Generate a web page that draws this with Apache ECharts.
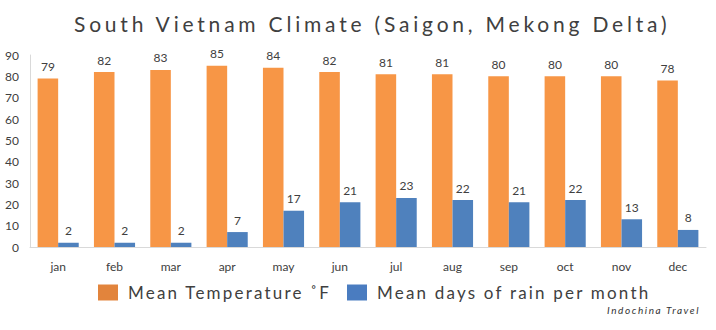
<!DOCTYPE html>
<html>
<head>
<meta charset="utf-8">
<script src="https://cdn.jsdelivr.net/npm/echarts@6/dist/echarts.min.js"></script>
<style>
  html, body { margin: 0; padding: 0; background: #fff; }
  #chart { width: 716px; height: 330px; }
</style>
</head>
<body>
<div id="chart"></div>
<script>
// Monthly climate figures for Saigon / Mekong Delta
const months = ['jan', 'feb', 'mar', 'apr', 'may', 'jun', 'jul', 'aug', 'sep', 'oct', 'nov', 'dec'];
const meanTempF = [79, 82, 83, 85, 84, 82, 81, 81, 80, 80, 80, 78];
const rainDays = [2, 2, 2, 7, 17, 21, 23, 22, 21, 22, 13, 8];
const yTicks = [0, 10, 20, 30, 40, 50, 60, 70, 80, 90];

const titleText = 'South Vietnam Climate (Saigon, Mekong Delta)';
const tempName = 'Mean Temperature \u02DAF';
const rainName = 'Mean days of rain per month';
const creditText = 'Indochina Travel';

const FONT = 'Lato, "Open Sans", sans-serif';
const ORANGE = '#F79646';
const BLUE = '#4F81BD';

// letter spacing applied to the spaced-out headings (svg renderer)
const spacing = {};
spacing[titleText] = '3.8px';
spacing[tempName] = '2.2px';
spacing[rainName] = '2.2px';
spacing[creditText] = '1.6px';

const chart = echarts.init(document.getElementById('chart'), null, { renderer: 'svg' });

const labelStyle = { show: true, position: 'top', distance: 6, color: '#404040', fontSize: 12, fontFamily: FONT };

function legendFor(name, color, left) {
  return {
    data: [{ name: name, itemStyle: { color: color } }],
    left: left,
    top: 284,
    padding: 0,
    itemWidth: 20,
    itemHeight: 16,
    icon: 'rect',
    textStyle: { fontFamily: FONT, fontSize: 17, color: '#404040', padding: [0, 0, 0, 5] }
  };
}

chart.setOption({
  animation: false,
  backgroundColor: '#fff',
  title: {
    text: titleText,
    left: 69,
    top: 8,
    textStyle: { fontFamily: FONT, fontSize: 21, fontWeight: 'normal', color: '#404040' }
  },
  graphic: [{
    type: 'text',
    left: 607,
    top: 305,
    style: { text: creditText, font: 'italic 10px ' + FONT, fill: '#333' }
  }],
  legend: [
    legendFor(tempName, '#E2843C', 98),
    legendFor(rainName, '#4A7CC0', 347)
  ],
  grid: { left: 30, right: 10, top: 55, bottom: 83, containLabel: false },
  xAxis: {
    type: 'category',
    data: months,
    axisLine: { lineStyle: { color: '#D9D9D9' } },
    axisTick: { show: false },
    axisLabel: { color: '#404040', fontFamily: FONT, fontSize: 12, margin: 13 }
  },
  yAxis: {
    type: 'value',
    min: yTicks[0],
    max: yTicks[yTicks.length - 1],
    interval: yTicks[1] - yTicks[0],
    axisLine: { show: true, lineStyle: { color: '#D9D9D9' } },
    axisTick: { show: false },
    splitLine: { show: false },
    axisLabel: { color: '#404040', fontFamily: FONT, fontSize: 12, margin: 11 }
  },
  series: [{
    name: tempName,
    type: 'bar',
    data: meanTempF,
    barGap: '0%',
    barCategoryGap: '27%',
    itemStyle: { color: ORANGE },
    label: labelStyle
  }, {
    name: rainName,
    type: 'bar',
    data: rainDays,
    itemStyle: { color: BLUE },
    label: labelStyle
  }]
});

function applySpacing() {
  document.querySelectorAll('#chart svg text').forEach(function (t) {
    const s = spacing[t.textContent];
    if (s) t.setAttribute('letter-spacing', s);
  });
}
chart.on('finished', applySpacing);
applySpacing();
</script>
</body>
</html>
